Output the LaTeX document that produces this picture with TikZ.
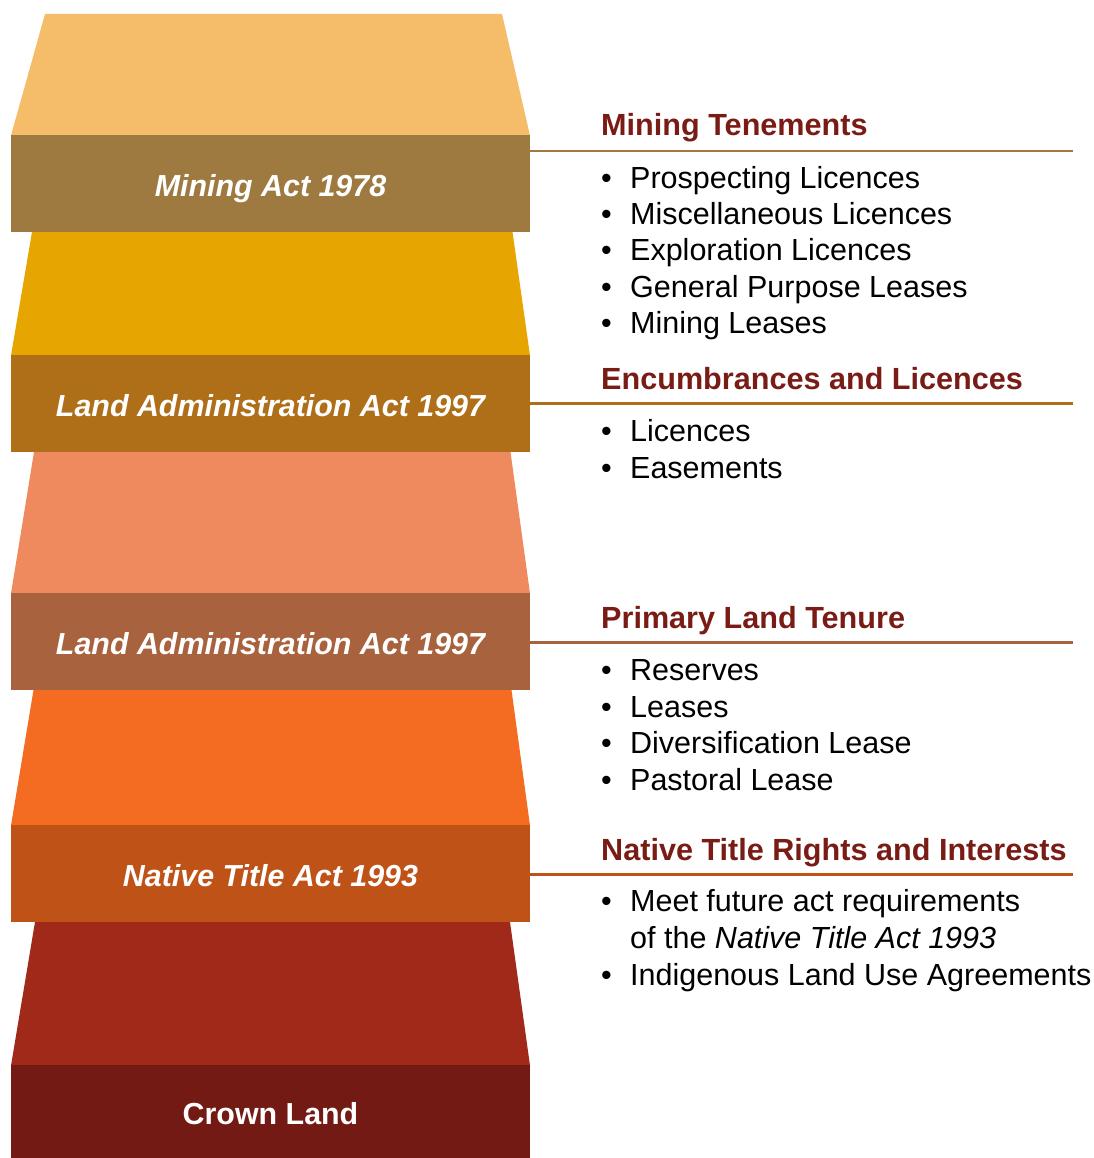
\documentclass[tikz,border=0pt]{standalone}
\usepackage{fontspec}
\setmainfont{Liberation Sans}
\definecolor{t1c}{HTML}{F5BC6A}
\definecolor{b1c}{HTML}{9E7A40}
\definecolor{t2c}{HTML}{E6A500}
\definecolor{b2c}{HTML}{AE6F18}
\definecolor{t3c}{HTML}{EF8A5E}
\definecolor{b3c}{HTML}{A8623E}
\definecolor{t4c}{HTML}{F36C22}
\definecolor{b4c}{HTML}{BF5317}
\definecolor{t5c}{HTML}{A0291A}
\definecolor{b5c}{HTML}{731A15}
\definecolor{headc}{HTML}{7A1C16}
\newcommand\mybul{\makebox[29pt][l]{•}}
\begin{document}
\begin{tikzpicture}[x=1pt,y=-1pt,
  band/.style={rectangle, draw=none, inner sep=0pt, minimum width=519pt,
    text height=26pt, text depth=0pt, text=white,
    font=\fontsize{30.4pt}{36pt}\selectfont\bfseries\itshape},
  rule/.style={line width=2.5pt},
  hdr/.style={anchor=base west, inner sep=0pt, text=headc,
    font=\fontsize{30.6pt}{36pt}\selectfont\bfseries},
  entry/.style={anchor=base west, inner sep=0pt, text=black,
    font=\fontsize{30.5pt}{36pt}\selectfont}]
\useasboundingbox (0,0) rectangle (1093,1158);

% trapezoids
\fill[t1c] (45,14) -- (502,14) -- (530,135.5) -- (11,135.5) -- cycle;
\fill[t2c] (32,232) -- (512.5,232) -- (530,355.5) -- (11,355.5) -- cycle;
\fill[t3c] (34,452) -- (510.5,452) -- (530,593.5) -- (11,593.5) -- cycle;
\fill[t4c] (33.5,690) -- (511.5,690) -- (530,825.5) -- (11,825.5) -- cycle;
\fill[t5c] (35,922) -- (510,922) -- (530,1065.5) -- (11,1065.5) -- cycle;

% bands
\node[band, fill=b1c, minimum height=97pt] (b1) at (270.5,183.5) {Mining Act 1978};
\node[band, fill=b2c, minimum height=97pt] (b2) at (270.5,403.5) {Land Administration Act 1997};
\node[band, fill=b3c, minimum height=97pt] (b3) at (270.5,641.5) {Land Administration Act 1997};
\node[band, fill=b4c, minimum height=97pt] (b4) at (270.5,873.5) {Native Title Act 1993};
\node[band, fill=b5c, minimum height=93pt, font=\fontsize{30.4pt}{36pt}\selectfont\bfseries] (b5) at (270.5,1111.5) {Crown Land};

% rules
\coordinate (r1) at (1073,151);
\coordinate (r2) at (1073,403.5);
\coordinate (r3) at (1073,642.5);
\coordinate (r4) at (1073,874.5);
\draw[rule, draw=b1c] (b1.east |- r1) -- (r1);
\draw[rule, draw=b2c] (b2.east |- r2) -- (r2);
\draw[rule, draw=b3c] (b3.east |- r3) -- (r3);
\draw[rule, draw=b4c] (b4.east |- r4) -- (r4);

% section 1
\node[hdr] (h1) at (601,136) {Mining Tenements};
\node[entry] (i11) at (601,188.5) {\mybul Prospecting Licences};
\node[entry] (i12) at (601,224.8) {\mybul Miscellaneous Licences};
\node[entry] (i13) at (601,261) {\mybul Exploration Licences};
\node[entry] (i14) at (601,297.3) {\mybul General Purpose Leases};
\node[entry] (i15) at (601,333.5) {\mybul Mining Leases};

% section 2
\node[hdr] (h2) at (601,389.5) {Encumbrances and Licences};
\node[entry] (i21) at (601,441.7) {\mybul Licences};
\node[entry] (i22) at (601,478.3) {\mybul Easements};

% section 3
\node[hdr] (h3) at (601,628.5) {Primary Land Tenure};
\node[entry] (i31) at (601,680) {\mybul Reserves};
\node[entry] (i32) at (601,717) {\mybul Leases};
\node[entry] (i33) at (601,753.7) {\mybul Diversification Lease};
\node[entry] (i34) at (601,790.3) {\mybul Pastoral Lease};

% section 4
\node[hdr] (h4) at (601,860) {Native Title Rights and Interests};
\node[entry] (i41) at (601,911.5) {\mybul Meet future act requirements};
\node[entry] (i42) at (630,948.2) {of the \textit{Native Title Act 1993}};
\node[entry] (i43) at (601,985) {\mybul Indigenous Land Use Agreements};
\end{tikzpicture}
\end{document}
